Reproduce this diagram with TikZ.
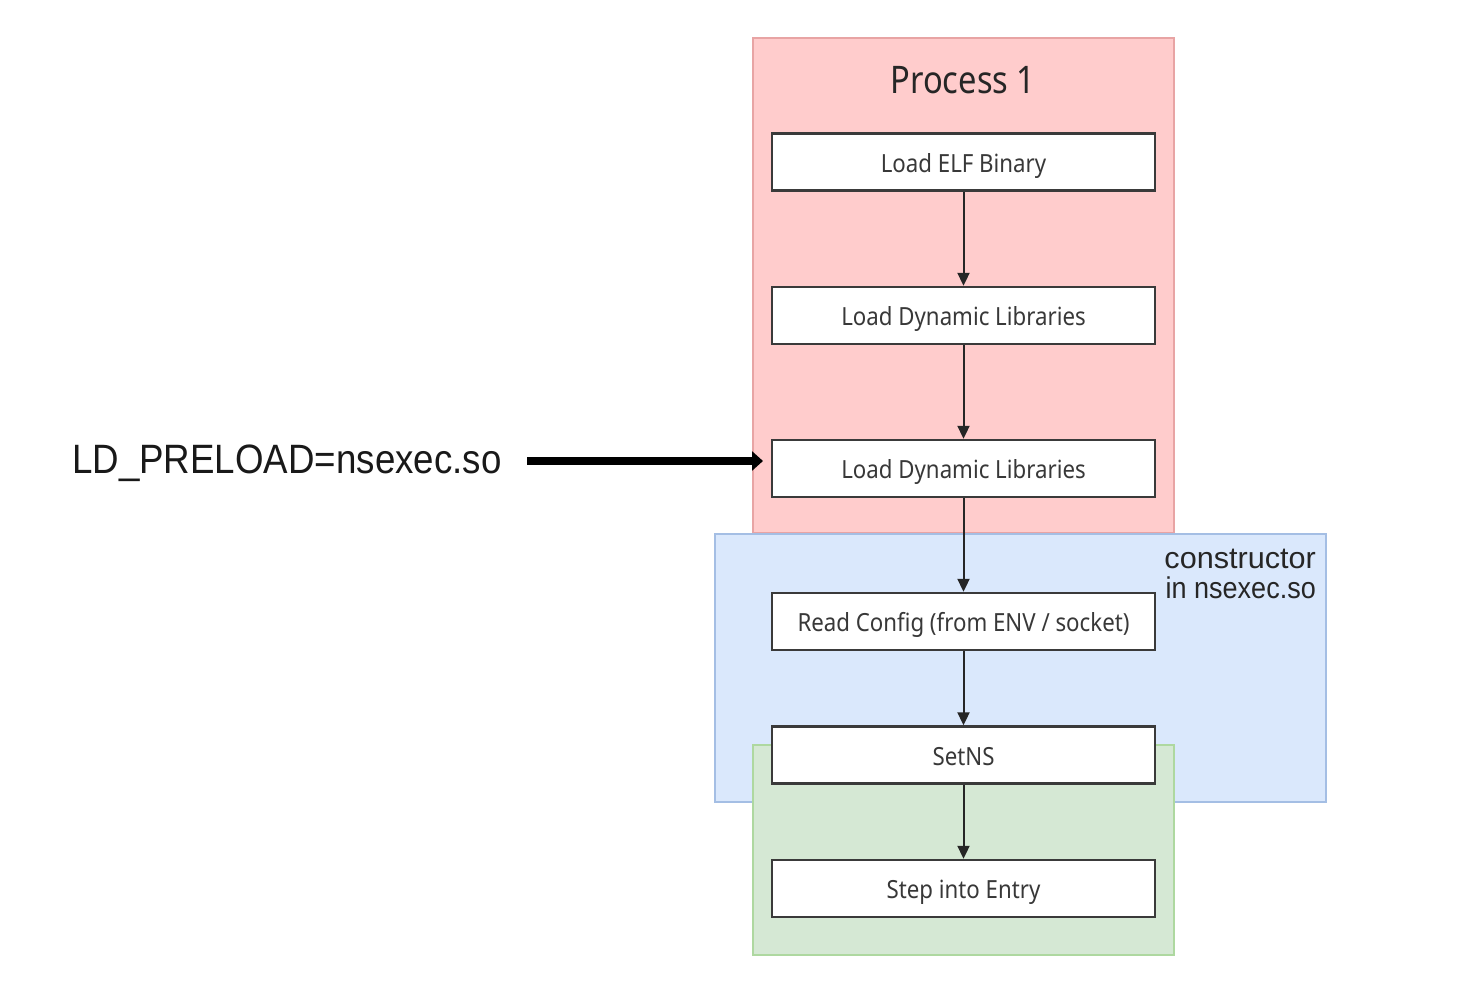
\documentclass[tikz,border=0pt]{standalone}
\usepackage{fontspec}
\usepackage{graphicx}
\setmainfont{Noto Sans}
\newfontfamily\arialfont{Liberation Sans}
\usetikzlibrary{arrows.meta}
\definecolor{pinkfill}{HTML}{FFCCCC}
\definecolor{pinkline}{HTML}{E8A4A4}
\definecolor{bluefill}{HTML}{DAE8FC}
\definecolor{blueline}{HTML}{A4BEE4}
\definecolor{greenfill}{HTML}{D5E8D4}
\definecolor{greenline}{HTML}{AED8A0}
\definecolor{boxline}{HTML}{3A3A3A}
\newcommand{\cond}[1]{\scalebox{0.89}[1]{#1}}
\begin{document}
\begin{tikzpicture}[x=1pt,y=-1pt,
  stepbox/.style={draw=boxline,fill=white,line width=2.4pt,minimum width=383pt,minimum height=57pt,inner sep=0pt,text height=20pt,text depth=0pt,font=\fontsize{25}{28}\selectfont,text=black!78},
  flow/.style={draw=black!85,line width=2pt,-{Triangle[length=13pt,width=12pt]}},
  region/.style={line width=2pt}
]
\useasboundingbox (0,0) rectangle (1482,980);
\fill[white] (0,0) rectangle (1482,980);
% regions
\draw[region,fill=pinkfill,draw=pinkline] (753,38) rectangle (1174,533);
\draw[region,fill=bluefill,draw=blueline] (715,534) rectangle (1326,802);
\draw[region,fill=greenfill,draw=greenline] (753,745) rectangle (1174,955);
% titles
\node[font=\fontsize{38}{42}\selectfont,text=black!85] (title) at (963,80) {\scalebox{0.86}[1]{Process 1}};
\node[font=\arialfont\fontsize{30}{30}\selectfont,align=right,anchor=north east,inner sep=0pt,text=black!85] (ctor) at (1316,549) {\scalebox{1.02}[1]{constructor}\\\scalebox{0.9}[1]{in nsexec.so}};
% steps
\node[stepbox] (b1) at (963.5,162) {\cond{Load ELF Binary}};
\node[stepbox] (b2) at (963.5,315.5) {\cond{Load Dynamic Libraries}};
\node[stepbox] (b3) at (963.5,468.5) {\cond{Load Dynamic Libraries}};
\node[stepbox] (b4) at (963.5,621.5) {\cond{Read Config (from ENV / socket)}};
\node[stepbox] (b5) at (963.5,755) {\cond{SetNS}};
\node[stepbox] (b6) at (963.5,888.5) {\cond{Step into Entry}};
\draw[flow] (b1) -- (b2);
\draw[flow] (b2) -- (b3);
\draw[flow] (b3) -- (b4);
\draw[flow] (b4) -- (b5);
\draw[flow] (b5) -- (b6);
% preload
\node[anchor=west,inner sep=0pt,font=\arialfont\fontsize{41}{44}\selectfont,text=black!90] (ld) at (72,463) {\scalebox{0.895}[1]{LD\_PRELOAD=nsexec.so}};
\coordinate (ls) at (527,461);
\coordinate (le) at (763,461);
\draw[line width=8.5pt,-{Triangle[length=11pt,width=19pt]}] (ls) -- (le);
\end{tikzpicture}
\end{document}
